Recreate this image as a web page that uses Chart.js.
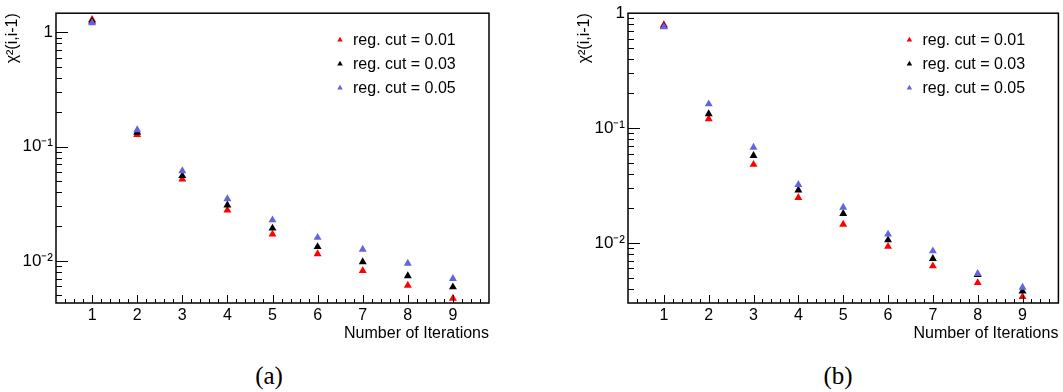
<!DOCTYPE html>
<html>
<head>
<meta charset="utf-8">
<script src="https://cdn.jsdelivr.net/npm/chart.js@4/dist/chart.umd.min.js"></script>
<style>
  html, body { margin: 0; padding: 0; background: #fff; }
  body { width: 1063px; height: 392px; position: relative; overflow: hidden; }
  canvas { position: absolute; top: 0; }
  #chartA { left: 0; }
  #chartB { left: 572px; }
  .caption {
    position: absolute; top: 362px; width: 80px; line-height: 28px;
    text-align: center; font-family: "Liberation Serif", "DejaVu Serif", serif; font-size: 25px;
  }
</style>
</head>
<body>
<canvas id="chartA" width="500" height="345"></canvas>
<canvas id="chartB" width="491" height="345"></canvas>
<div class="caption" style="left:229px">(a)</div>
<div class="caption" style="left:798px">(b)</div>
<script>
// valores
const iteracoes = [1, 2, 3, 4, 5, 6, 7, 8, 9];
const rotulos = ['reg. cut = 0.01', 'reg. cut = 0.03', 'reg. cut = 0.05'];

const chiA_001 = [1.29, 0.127, 0.0519, 0.0278, 0.0171, 0.0115, 0.0082, 0.0061, 0.0047];
const chiA_003 = [1.25, 0.133, 0.0556, 0.0307, 0.0193, 0.0133, 0.0098, 0.0074, 0.0059];
const chiA_005 = [1.21, 0.140, 0.0613, 0.0349, 0.0228, 0.0160, 0.0126, 0.0095, 0.0070];

const chiB_001 = [0.79, 0.120, 0.0482, 0.0248, 0.0145, 0.0093, 0.0063, 0.0045, 0.0034];
const chiB_003 = [0.77, 0.133, 0.0575, 0.0288, 0.0180, 0.0106, 0.0073, 0.0053, 0.0038];
const chiB_005 = [0.76, 0.162, 0.0678, 0.0322, 0.0204, 0.0119, 0.0085, 0.0054, 0.0041];

const yTicks = [0.01, 0.1, 1];
const yTickLabels = ['10\u207B\u00B2', '10\u207B\u00B9', '1'];

const cores = ['#ff0000', '#000000', '#6464e0'];
const fonte = 'Liberation Sans, Arial, Helvetica, sans-serif';

// moldura e marcas de escala estilo ROOT (para dentro)
const molduraRoot = {
    id: 'molduraRoot',
    afterDraw(chart) {
        const { ctx, chartArea: a, scales: { x, y } } = chart;
        ctx.save();
        ctx.strokeStyle = '#000';
        ctx.lineWidth = 1;
        ctx.beginPath();
        for (let k = 1; k < 48; k++) {
            const v = 0.2 + k * 0.2;
            const px = Math.round(x.getPixelForValue(v)) + 0.5;
            const major = Math.abs(v - Math.round(v)) < 1e-6;
            ctx.moveTo(px, a.bottom);
            ctx.lineTo(px, a.bottom - (major ? 8 : 4));
        }
        for (let e = -3; e <= 0; e++) {
            for (let m = 1; m <= 9; m++) {
                const v = m * Math.pow(10, e);
                if (v <= y.min || v >= y.max) continue;
                const py = Math.round(y.getPixelForValue(v)) + 0.5;
                ctx.moveTo(a.left, py);
                ctx.lineTo(a.left + (m === 1 ? 12 : 6), py);
            }
        }
        ctx.stroke();
        ctx.lineWidth = 1.5;
        ctx.strokeRect(a.left, a.top, a.width, a.height);
        ctx.restore();
    }
};

// legenda dentro da área do gráfico
const legendaRoot = {
    id: 'legendaRoot',
    afterDraw(chart) {
        const { ctx, chartArea: a } = chart;
        const mx = a.right - 149;
        ctx.save();
        ctx.font = '16px ' + fonte;
        ctx.textBaseline = 'middle';
        ctx.textAlign = 'left';
        chart.data.datasets.forEach((ds, i) => {
            const my = 40 + i * 24;
            const r = 3.2;
            ctx.fillStyle = ds.backgroundColor;
            ctx.beginPath();
            ctx.moveTo(mx, my - r);
            ctx.lineTo(mx + r * 0.866, my + r * 0.5);
            ctx.lineTo(mx - r * 0.866, my + r * 0.5);
            ctx.closePath();
            ctx.fill();
            ctx.fillStyle = '#000';
            ctx.fillText(ds.label, mx + 13, my + 1);
        });
        ctx.restore();
    }
};

function criarGrafico(id, series, yMin, yMax, padDireita) {
    const ctx = document.getElementById(id).getContext('2d');
    return new Chart(ctx, {
        type: 'scatter',
        data: {
            datasets: series.map((s, i) => ({
                label: rotulos[i],
                data: iteracoes.map((it, j) => ({ x: it, y: s[j] })),
                backgroundColor: cores[i],
                borderColor: cores[i],
                pointStyle: 'triangle',
                pointRadius: 4.6,
                pointBorderWidth: 0,
                order: 2 - i
            }))
        },
        options: {
            responsive: false,
            animation: false,
            layout: { padding: { top: 8, right: padDireita, left: 0, bottom: 0 } },
            plugins: { legend: { display: false }, tooltip: { enabled: false } },
            scales: {
                x: {
                    type: 'linear', min: 0.2, max: 9.8,
                    afterBuildTicks: s => { s.ticks = iteracoes.map(v => ({ value: v })); },
                    afterFit: s => { s.height = 42; },
                    grid: { display: false, drawTicks: false },
                    border: { display: false },
                    ticks: { padding: 3, color: '#000', autoSkip: false, maxRotation: 0, font: { family: fonte, size: 16 } },
                    title: {
                        display: true, text: 'Number of Iterations', align: 'end', color: '#000',
                        font: { family: fonte, size: 16 }, padding: { top: 0, bottom: 2 }
                    }
                },
                y: {
                    type: 'logarithmic', min: yMin, max: yMax,
                    afterBuildTicks: s => { s.ticks = yTicks.filter(v => v >= s.min && v <= s.max).map(v => ({ value: v })); },
                    afterFit: s => { s.width = 56; },
                    grid: { display: false, drawTicks: false },
                    border: { display: false },
                    ticks: {
                        padding: 3, color: '#000', autoSkip: false, font: { family: fonte, size: 17 },
                        callback: v => yTickLabels[yTicks.indexOf(v)]
                    },
                    title: {
                        display: true, text: '\u03C7\u00B2(i,i-1)', align: 'end', color: '#000',
                        font: { family: fonte, size: 16 }, padding: { top: 3, bottom: 0 }
                    }
                }
            }
        },
        plugins: [molduraRoot, legendaRoot]
    });
}

document.addEventListener('DOMContentLoaded', () => {
    criarGrafico('chartA', [chiA_001, chiA_003, chiA_005], 0.00428, 1.47, 11);
    criarGrafico('chartB', [chiB_001, chiB_003, chiB_005], 0.0030, 1.0, 1);
});
</script>
</body>
</html>
